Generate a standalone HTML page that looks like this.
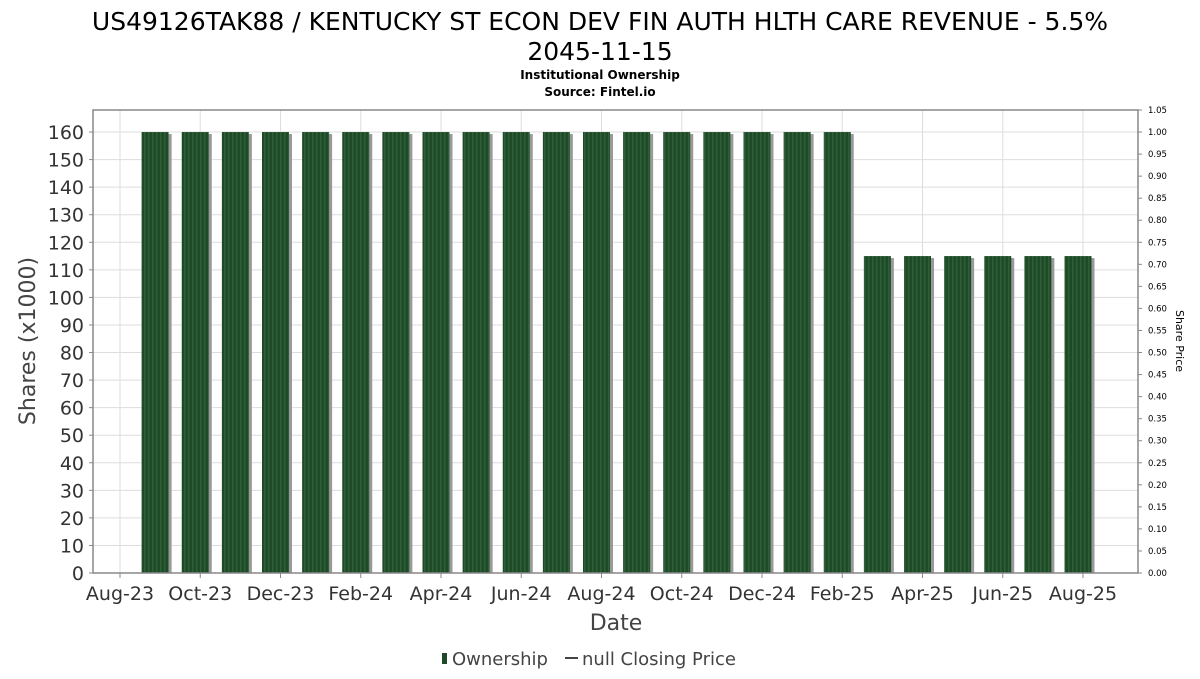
<!DOCTYPE html>
<html><head><meta charset="utf-8"><style>
body{margin:0;background:#fff;font-family:"DejaVu Sans","Liberation Sans",sans-serif}
svg text{font-family:"DejaVu Sans","Liberation Sans",sans-serif}
</style></head><body>
<svg id="chart" width="1200" height="675" xmlns="http://www.w3.org/2000/svg">
<text x="600" y="30" font-size="25" text-anchor="middle" fill="#000">US49126TAK88 / KENTUCKY ST ECON DEV FIN AUTH HLTH CARE REVENUE - 5.5%</text>
<text x="600" y="60" font-size="25" text-anchor="middle" fill="#000">2045-11-15</text>
<text x="600" y="79" font-size="12" font-weight="bold" text-anchor="middle">Institutional Ownership</text>
<text x="600" y="96" font-size="12" font-weight="bold" text-anchor="middle">Source: Fintel.io</text>
<g id="grid"></g><g id="bars"></g><g id="axes"></g>
<text transform="translate(35,341) rotate(-90)" font-size="22" fill="#444" text-anchor="middle">Shares (x1000)</text>
<text transform="translate(1176,341) rotate(90)" font-size="11" fill="#000" text-anchor="middle">Share Price</text>
<text x="616" y="630" font-size="22" fill="#444" text-anchor="middle">Date</text>
<g>
<rect x="442" y="653" width="5" height="11" fill="#1e4a28"/>
<text x="452" y="665" font-size="18" fill="#444">Ownership</text>
<line x1="565" y1="658" x2="578" y2="658" stroke="#444" stroke-width="2"/>
<text x="582" y="665" font-size="18" fill="#444">null Closing Price</text>
</g>
</svg>
<script>
const xLabels=["Aug-23","Oct-23","Dec-23","Feb-24","Apr-24","Jun-24","Aug-24","Oct-24","Dec-24","Feb-25","Apr-25","Jun-25","Aug-25"];
const shares=[160,160,160,160,160,160,160,160,160,160,160,160,160,160,160,160,160,160,115,115,115,115,115,115];
const yTicks=[0,10,20,30,40,50,60,70,80,90,100,110,120,130,140,150,160];
const y2Ticks=[0,0.05,0.1,0.15,0.2,0.25,0.3,0.35,0.4,0.45,0.5,0.55,0.6,0.65,0.7,0.75,0.8,0.85,0.9,0.95,1.0,1.05];
const L=93,R=1138,T=110,B=573,YMAX=168,Y2MAX=1.05;
const y=v=>B-(v/YMAX)*(B-T), y2=v=>B-(v/Y2MAX)*(B-T);
const mx=m=>120+40.125*m; // months since Aug-23
const NS="http://www.w3.org/2000/svg";
function mk(tag,attrs,parent,txt){const e=document.createElementNS(NS,tag);for(const k in attrs)e.setAttribute(k,attrs[k]);if(txt!==undefined)e.textContent=txt;parent.appendChild(e);return e;}
const grid=document.getElementById('grid'),bars=document.getElementById('bars'),axes=document.getElementById('axes');
yTicks.forEach(v=>{
 const l=mk('line',{x1:L,x2:R,y1:y(v),y2:y(v),stroke:'#ddd'},grid);
 
 const t=mk('text',{x:84,y:y(v)+7,'font-size':19,'text-anchor':'end',fill:'#333'},axes,String(v));
 
 mk('line',{x1:L-4,x2:L,y1:y(v),y2:y(v),stroke:'#888'},axes);
});
y2Ticks.forEach(v=>{
 const t=mk('text',{x:1148,y:y2(v)+3,'font-size':8.5,fill:'#000'},axes,v.toFixed(2));
 
 mk('line',{x1:R,x2:R+4,y1:y2(v),y2:y2(v),stroke:'#888'},axes);
});
xLabels.forEach((s,i)=>{
 const x=mx(i*2);
 const l=mk('line',{x1:x,x2:x,y1:T,y2:B,stroke:'#ddd'},grid);
 
 mk('line',{x1:x,x2:x,y1:B,y2:B+5,stroke:'#888'},axes);
 const t=mk('text',{x:x,y:600,'font-size':19,'text-anchor':'middle',fill:'#333'},axes,s);
 
});
const defs=mk('defs',{},document.getElementById('chart'));
const pat=mk('pattern',{id:'stripes',width:4,height:10,patternUnits:'userSpaceOnUse'},defs);
mk('rect',{width:4,height:10,fill:'#1e4a28'},pat);mk('rect',{width:1.5,height:10,fill:'#2d5e37'},pat);
shares.forEach((v,i)=>{
 const cx=mx(i+1)-5,w=27;
 const s=mk('rect',{x:cx-w/2+3,y:y(v)+2,width:w,height:B-y(v)-2,fill:'#999'},bars);
 
 const b=mk('rect',{x:cx-w/2,y:y(v),width:w,height:B-y(v),fill:'url(#stripes)'},bars);
 
});
mk('rect',{x:L,y:T,width:R-L,height:B-T,fill:'none',stroke:'#888','stroke-width':1.5},axes);
</script>
</body></html>
